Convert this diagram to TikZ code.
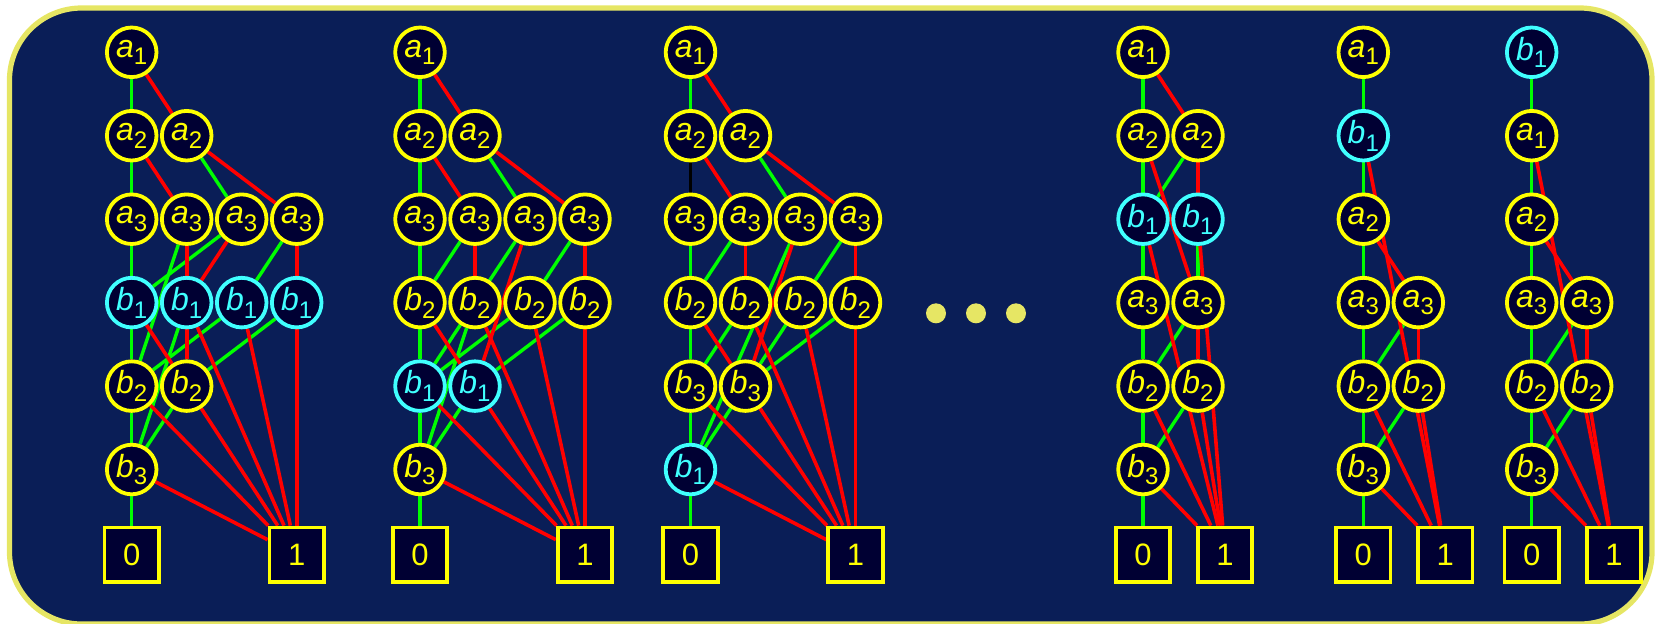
\documentclass[tikz,border=0pt]{standalone}
\usepackage{fontspec}
\setmainfont{Liberation Sans}
\usepackage{xcolor}
\usepackage{tikz}

\definecolor{panel}{RGB}{10,30,87}
\definecolor{rimc}{RGB}{230,230,100}
\definecolor{nodebg}{RGB}{0,0,51}
\definecolor{nodey}{RGB}{255,255,0}
\definecolor{nodec}{RGB}{64,255,255}
\definecolor{edgeg}{RGB}{0,255,0}
\definecolor{edger}{RGB}{255,0,0}

\pgfdeclarelayer{back}
\pgfdeclarelayer{wires}
\pgfsetlayers{back,wires,main}

% variable label: italic letter, upright index
\newcommand{\vl}[2]{{\fontsize{16pt}{16pt}\selectfont\itshape #1}\raisebox{-3.8pt}{\fontsize{12pt}{12pt}\selectfont #2}}

\tikzset{
  vara/.style={circle,draw=nodey,fill=nodebg,text=nodey,line width=1.9pt,minimum size=24.8pt,inner sep=0pt},
  varb/.style={vara,draw=nodec,text=nodec},
  term/.style={rectangle,draw=nodey,fill=nodebg,text=nodey,line width=1.9pt,minimum size=27.2pt,inner sep=0pt,font=\fontsize{15.5pt}{15.5pt}\selectfont},
  gline/.style={draw=edgeg,line width=1.7pt},
  rline/.style={draw=edger,line width=1.8pt},
  kline/.style={draw=black,line width=1.7pt},
  rim/.style={draw=rimc,fill=panel,line width=2.6pt,rounded corners=36pt},
  dot/.style={circle,fill=rimc,minimum size=10pt,inner sep=0pt}
}

\begin{document}
\begin{tikzpicture}[x=0.5pt,y=-0.5pt]
\useasboundingbox (0,0) rectangle (1655,623);
\begin{pgfonlayer}{back}
\draw[rim] (9.5,8) rectangle (1652,624);
\end{pgfonlayer}

% order a1 a2 a3 b1 b2 b3
\node[vara] (d1a1) at (131.7,52.3) {\vl{a}{1}};
\foreach \c/\x in {a/131.7,b/186.7} \node[vara] (d1a2\c) at (\x,135.7) {\vl{a}{2}};
\foreach \c/\x in {a/131.7,b/186.7,c/241.7,d/296.7} \node[vara] (d1a3\c) at (\x,219.2) {\vl{a}{3}};
\foreach \c/\x in {a/131.7,b/186.7,c/241.7,d/296.7} \node[varb] (d1b1\c) at (\x,302.6) {\vl{b}{1}};
\foreach \c/\x in {a/131.7,b/186.7} \node[vara] (d1b2\c) at (\x,386.1) {\vl{b}{2}};
\node[vara] (d1b3) at (131.7,469.5) {\vl{b}{3}};
\node[term] (d1t0) at (131.7,554.7) {0};
\node[term] (d1t1) at (296.7,554.7) {1};

% order a1 a2 a3 b2 b1 b3
\node[vara] (d2a1) at (420,52.3) {\vl{a}{1}};
\foreach \c/\x in {a/420,b/475} \node[vara] (d2a2\c) at (\x,135.7) {\vl{a}{2}};
\foreach \c/\x in {a/420,b/475,c/530,d/585} \node[vara] (d2a3\c) at (\x,219.2) {\vl{a}{3}};
\foreach \c/\x in {a/420,b/475,c/530,d/585} \node[vara] (d2b2\c) at (\x,302.6) {\vl{b}{2}};
\foreach \c/\x in {a/420,b/475} \node[varb] (d2b1\c) at (\x,386.1) {\vl{b}{1}};
\node[vara] (d2b3) at (420,469.5) {\vl{b}{3}};
\node[term] (d2t0) at (420,554.7) {0};
\node[term] (d2t1) at (585,554.7) {1};

% order a1 a2 a3 b2 b3 b1
\node[vara] (d3a1) at (690.5,52.3) {\vl{a}{1}};
\foreach \c/\x in {a/690.5,b/745.5} \node[vara] (d3a2\c) at (\x,135.7) {\vl{a}{2}};
\foreach \c/\x in {a/690.5,b/745.5,c/800.5,d/855.5} \node[vara] (d3a3\c) at (\x,219.2) {\vl{a}{3}};
\foreach \c/\x in {a/690.5,b/745.5,c/800.5,d/855.5} \node[vara] (d3b2\c) at (\x,302.6) {\vl{b}{2}};
\foreach \c/\x in {a/690.5,b/745.5} \node[vara] (d3b3\c) at (\x,386.1) {\vl{b}{3}};
\node[varb] (d3b1) at (690.5,469.5) {\vl{b}{1}};
\node[term] (d3t0) at (690.5,554.7) {0};
\node[term] (d3t1) at (855.5,554.7) {1};

\node[dot] (dot1) at (936,313.3) {};
\node[dot] (dot2) at (976,313.3) {};
\node[dot] (dot3) at (1016,313.3) {};

% order a1 a2 b1 a3 b2 b3
\node[vara] (d4a1) at (1143,52.3) {\vl{a}{1}};
\foreach \c/\x in {a/1143,b/1198} \node[vara] (d4a2\c) at (\x,135.7) {\vl{a}{2}};
\foreach \c/\x in {a/1143,b/1198} \node[varb] (d4b1\c) at (\x,219.2) {\vl{b}{1}};
\foreach \c/\x in {a/1143,b/1198} \node[vara] (d4a3\c) at (\x,302.6) {\vl{a}{3}};
\foreach \c/\x in {a/1143,b/1198} \node[vara] (d4b2\c) at (\x,386.1) {\vl{b}{2}};
\node[vara] (d4b3) at (1143,469.5) {\vl{b}{3}};
\node[term] (d4t0) at (1143,554.7) {0};
\node[term] (d4t1) at (1225,554.7) {1};

% order a1 b1 a2 a3 b2 b3
\node[vara] (d5a1) at (1363.3,52.3) {\vl{a}{1}};
\node[varb] (d5b1) at (1363.3,135.7) {\vl{b}{1}};
\node[vara] (d5a2) at (1363.3,219.2) {\vl{a}{2}};
\foreach \c/\x in {a/1363.3,b/1418.3} \node[vara] (d5a3\c) at (\x,302.6) {\vl{a}{3}};
\foreach \c/\x in {a/1363.3,b/1418.3} \node[vara] (d5b2\c) at (\x,386.1) {\vl{b}{2}};
\node[vara] (d5b3) at (1363.3,469.5) {\vl{b}{3}};
\node[term] (d5t0) at (1363.3,554.7) {0};
\node[term] (d5t1) at (1445.3,554.7) {1};

% order b1 a1 a2 a3 b2 b3
\node[varb] (d6b1) at (1531.7,52.3) {\vl{b}{1}};
\node[vara] (d6a1) at (1531.7,135.7) {\vl{a}{1}};
\node[vara] (d6a2) at (1531.7,219.2) {\vl{a}{2}};
\foreach \c/\x in {a/1531.7,b/1586.7} \node[vara] (d6a3\c) at (\x,302.6) {\vl{a}{3}};
\foreach \c/\x in {a/1531.7,b/1586.7} \node[vara] (d6b2\c) at (\x,386.1) {\vl{b}{2}};
\node[vara] (d6b3) at (1531.7,469.5) {\vl{b}{3}};
\node[term] (d6t0) at (1531.7,554.7) {0};
\node[term] (d6t1) at (1614,554.7) {1};

\begin{pgfonlayer}{wires}
% first
\foreach \u/\v in {a1/a2a,a2a/a3a,a2b/a3c,a3a/b1a,a3b/b2a,a3c/b1a,a3d/b1c,b1a/b2a,b1b/b3,b1c/b2a,b1d/b2b,b2a/b3,b2b/b3,b3/t0}
  \draw[gline] (d1\u) -- (d1\v);
\foreach \u/\v in {a1/a2b,a2a/a3b,a2b/a3d,a3b/b2b,a3c/b1b,a3d/b1d,b1a/b2b,b1b/t1,b1c/t1,b1d/t1,b2a/t1,b2b/t1,b3/t1}
  \draw[rline] (d1\u) -- (d1\v);
% second
\foreach \u/\v in {a1/a2a,a2a/a3a,a2b/a3c,a3a/b2a,a3b/b2a,a3c/b1a,a3d/b2c,b2a/b1a,b2b/b3,b2c/b1a,b2d/b1b,b1a/b3,b1b/b3,b3/t0}
  \draw[gline] (d2\u) -- (d2\v);
\foreach \u/\v in {a1/a2b,a2a/a3b,a2b/a3d,a3b/b2b,a3c/b1b,a3d/b2d,b2a/b1b,b2b/t1,b2c/t1,b2d/t1,b1a/t1,b1b/t1,b3/t1}
  \draw[rline] (d2\u) -- (d2\v);
% third
\draw[kline] (d3a2a) -- (d3a3a);
\foreach \u/\v in {a1/a2a,a2b/a3c,a3a/b2a,a3b/b2a,a3c/b1,a3d/b2c,b2a/b3a,b2b/b3a,b2c/b3b,b2d/b3b,b3a/b1,b3b/b1,b1/t0}
  \draw[gline] (d3\u) -- (d3\v);
\foreach \u/\v in {a1/a2b,a2a/a3b,a2b/a3d,a3b/b2b,a3c/b3b,a3d/b2d,b2a/b3b,b2b/t1,b2c/t1,b2d/t1,b3a/t1,b3b/t1,b1/t1}
  \draw[rline] (d3\u) -- (d3\v);
% fourth
\foreach \u/\v in {a1/a2a,a2a/b1a,a2b/b1a,b1a/a3a,b1b/a3b,a3a/b2a,a3b/b2a,b2a/b3,b2b/b3,b3/t0}
  \draw[gline] (d4\u) -- (d4\v);
\foreach \u/\v in {a1/a2b,a2a/a3b,a2b/b1b,b1a/t1,b1b/t1,a3b/b2b,b2a/t1,b2b/t1,b3/t1}
  \draw[rline] (d4\u) -- (d4\v);
% fifth
\foreach \u/\v in {a1/b1,b1/a2,a2/a3a,a3a/b2a,a3b/b2a,b2a/b3,b2b/b3,b3/t0}
  \draw[gline] (d5\u) -- (d5\v);
\foreach \u/\v in {b1/t1,a2/a3b,a3b/b2b,b2a/t1,b2b/t1,b3/t1}
  \draw[rline] (d5\u) -- (d5\v);
% sixth
\foreach \u/\v in {b1/a1,a1/a2,a2/a3a,a3a/b2a,a3b/b2a,b2a/b3,b2b/b3,b3/t0}
  \draw[gline] (d6\u) -- (d6\v);
\foreach \u/\v in {a1/t1,a2/a3b,a3b/b2b,b2a/t1,b2b/t1,b3/t1}
  \draw[rline] (d6\u) -- (d6\v);
\end{pgfonlayer}
\end{tikzpicture}
\end{document}
